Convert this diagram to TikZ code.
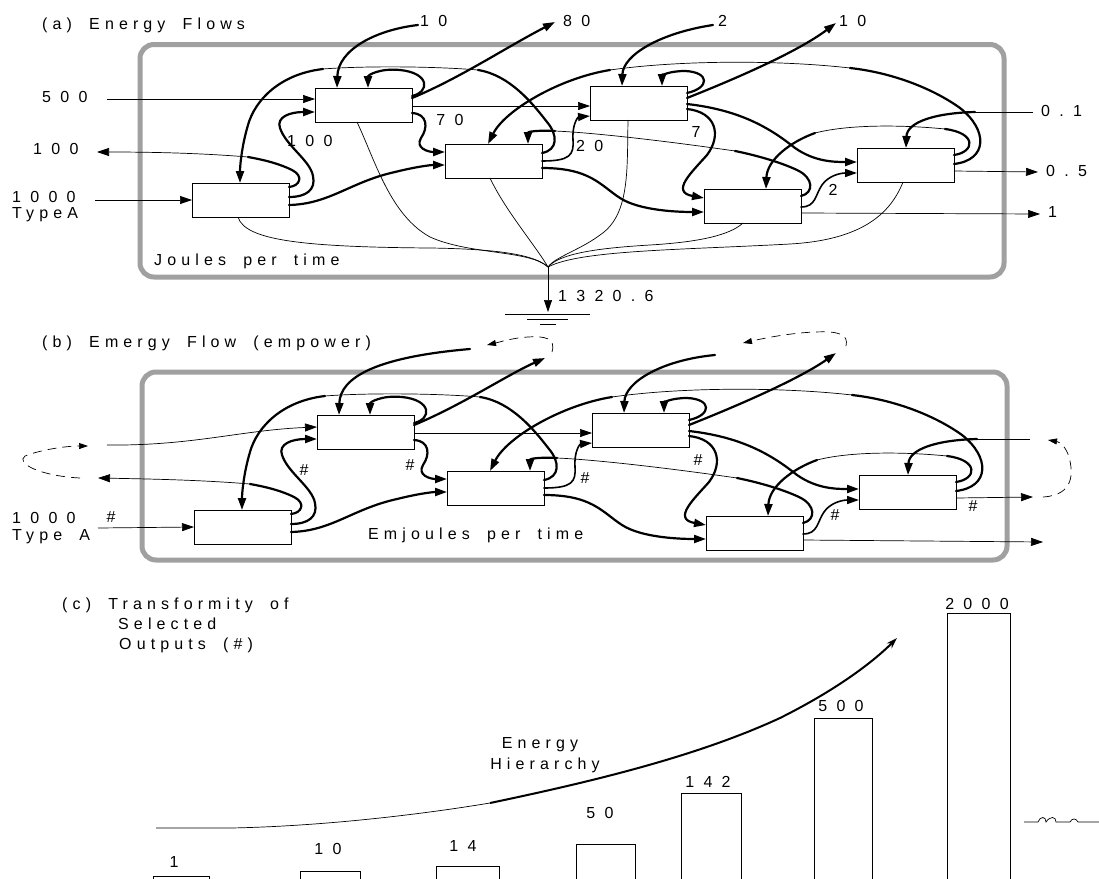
\documentclass[tikz,border=0pt]{standalone}
\usepackage{fontspec}
\setmainfont{Liberation Sans}
\newfontfamily\lf[LetterSpace=32,WordSpace=1.8]{Liberation Sans}
\newfontfamily\nf[LetterSpace=58]{Liberation Sans}
\usetikzlibrary{arrows.meta}
\definecolor{frameg}{RGB}{160,160,160}
\tikzset{
  box/.style={draw, line width=0.9pt, minimum width=97pt, minimum height=34pt, inner sep=0pt, outer sep=0pt, anchor=north west},
  thn/.style={line width=0.7pt},
  thk/.style={line width=2.2pt, line cap=round},
  med/.style={line width=1.6pt, line cap=round},
  tip/.style={-{Triangle[length=12pt,width=8pt]}},
  stip/.style={-{Triangle[length=9pt,width=6pt]}},
  dsh/.style={line width=0.7pt, dash pattern=on 9pt off 6pt},
  frame/.style={draw=frameg, line width=5pt, rounded corners=14pt},
  lab/.style={font={\lf\fontsize{16pt}{18pt}\selectfont}, inner sep=0pt},
  num/.style={font={\nf\fontsize{16pt}{18pt}\selectfont}, inner sep=0pt},
  bar/.style={draw, line width=0.9pt}
}
\newcommand\flowset[1]{%
 \coordinate (#1k01) at (975,112);
 \coordinate (#1t10) at (248,157);
 \coordinate (#1t13a) at (478,70);
 \coordinate (#1t13b) at (323,69);
 \coordinate (#1t14a) at (735,151);
 \coordinate (#1t14b) at (555,131);
 \coordinate (#1t18a) at (850,68);
 \coordinate (#1t18b) at (610,70);
 \coordinate (#1t25a) at (945,129);
 \coordinate (#1t25b) at (815,133);
 \draw[thk,tip] (#1s10) .. controls (375,30) and (338,50) .. ([shift={(22,0)}]#12.north west);
 \draw[thk,tip] ([shift={(0,10)}]#12.north east) .. controls (460,78) and (505,48) .. (#1s80);
 \draw[thk,tip] (#1s2) .. controls (660,33) and (623,55) .. ([shift={(32,0)}]#14.north west);
 \draw[thk,tip] ([shift={(0,12)}]#14.north east) .. controls (745,75) and (800,50) .. (#1s10r);
 \draw[thn] (#1s01) -- (#1k01);
 \draw[thk,tip] (#1k01) .. controls (935,113) and (907,122) .. ([shift={(49,0)}]#16.north west);
 \draw[thn,tip] ([shift={(0,23)}]#16.north east) -- (#1s05);
 \draw[thn,tip] ([shift={(0,24)}]#15.north east) -- (#1s1);
 \draw[thn,tip] (#1s1000) -- (#11.west);
 \draw[thk] ([shift={(0,4)}]#11.north east) .. controls (300,186) and (304,176) .. (292,170) .. controls (280,164) and (265,160) .. (#1t10);
 \draw[thn,tip] (#1t10) .. controls (200,153) and (150,152) .. (#1s100);
 \draw[thk,tip] ([shift={(0,14)}]#11.north east) .. controls (306,197) and (316,190) .. (313,176) .. controls (310,160) and (286,146) .. (280,128) .. controls (276,117) and (290,112) .. ([shift={(0,24)}]#12.north west);
 \draw[thk,tip] ([shift={(0,22)}]#11.north east) .. controls (330,204) and (350,182) .. (395,172) .. controls (415,167) and (430,165) .. ([shift={(0,21)}]#13.north west);
 \draw[thk] ([shift={(0,9)}]#13.north east) .. controls (558,150) and (558,135) .. (547,122) .. controls (533,104) and (510,75) .. (#1t13a);
 \draw[thn] (#1t13a) .. controls (430,66) and (360,66) .. (#1t13b);
 \draw[thk,tip] (#1t13b) .. controls (280,74) and (255,100) .. (248,125) .. controls (242,145) and (240,165) .. ([shift={(48,0)}]#11.north west);
 \draw[thk] ([shift={(0,7)}]#15.north east) .. controls (814,193) and (814,178) .. (797,170) .. controls (780,162) and (755,155) .. (#1t14a);
 \draw[thn] (#1t14a) .. controls (680,143) and (600,133) .. (#1t14b);
 \draw[thk,tip] (#1t14b) .. controls (535,130) and (528,132) .. ([shift={(83,0)}]#13.north west);
 \draw[thk,tip] ([shift={(0,8)}]#12.north east) .. controls (430,92) and (430,73) .. (400,70) .. controls (380,68) and (368,75) .. ([shift={(53,0)}]#12.north west);
 \draw[thk,tip] ([shift={(0,25)}]#12.north east) .. controls (428,114) and (428,128) .. (421,138) .. controls (415,148) and (428,152) .. ([shift={(0,8)}]#13.north west);
 \draw[thn,tip] ([shift={(0,18)}]#12.north east) -- ([shift={(0,20)}]#14.north west);
 \draw[thk] ([shift={(0,16)}]#16.north east) .. controls (988,160) and (988,130) .. (960,108) .. controls (935,90) and (895,73) .. (#1t18a);
 \draw[thn] (#1t18a) .. controls (780,60) and (680,60) .. (#1t18b);
 \draw[thk,tip] (#1t18b) .. controls (560,78) and (505,110) .. ([shift={(43,0)}]#13.north west);
 \draw[thk,tip] ([shift={(0,7)}]#14.north east) .. controls (710,88) and (710,72) .. (685,71) .. controls (668,71) and (662,76) .. ([shift={(72,0)}]#14.north west);
 \draw[thk,tip] ([shift={(0,23)}]#14.north east) .. controls (716,112) and (722,135) .. (707,155) .. controls (692,172) and (670,192) .. ([shift={(0,9)}]#15.north west);
 \draw[thk,tip] ([shift={(0,18)}]#14.north east) .. controls (740,110) and (770,128) .. (795,148) .. controls (815,162) and (835,162) .. ([shift={(0,14)}]#16.north west);
 \draw[med,tip] ([shift={(0,17)}]#13.north east) .. controls (570,161) and (574,155) .. (573,140) .. controls (572,124) and (578,117) .. ([shift={(0,30)}]#14.north west);
 \draw[thk,tip] ([shift={(0,24)}]#13.north east) .. controls (590,168) and (600,185) .. (620,198) .. controls (640,211) and (680,212) .. ([shift={(0,23)}]#15.north west);
 \draw[med,tip] ([shift={(0,18)}]#15.north east) .. controls (816,207) and (815,195) .. (822,185) .. controls (828,176) and (840,173) .. ([shift={(0,25)}]#16.north west);
 \draw[thk] ([shift={(0,7)}]#16.north east) .. controls (975,152) and (977,133) .. (#1t25a);
 \draw[thn] (#1t25a) .. controls (905,125) and (850,124) .. (#1t25b);
 \draw[thk,tip] (#1t25b) .. controls (790,142) and (767,160) .. ([shift={(62,0)}]#15.north west);
}
\begin{document}
\begin{tikzpicture}[x=1pt,y=-1pt]
\useasboundingbox (0,0) rectangle (1099,878);
\clip (0,0) rectangle (1099,878);
\fill[white] (0,0) rectangle (1099,878);
% ---------------- frames
\draw[frame] (140,44.5) rectangle (1004,277);
\draw[frame] (142,372) rectangle (1007,560);
% ---------------- panel (a)
\begin{scope}
 \node[box] (a1) at (192,183) {};
 \node[box] (a2) at (315,88) {};
 \node[box] (a3) at (445,144) {};
 \node[box] (a4) at (590,86) {};
 \node[box] (a5) at (704,189) {};
 \node[box] (a6) at (857,148) {};
 \coordinate (as10) at (418,25);
 \coordinate (as80) at (555,22);
 \coordinate (as2) at (713,25);
 \coordinate (as10r) at (836,23);
 \coordinate (as01) at (1033,112);
 \coordinate (as05) at (1038,172);
 \coordinate (as1) at (1040,214);
 \coordinate (as1000) at (95,200);
 \coordinate (as100) at (97,152);
 \coordinate (as500) at (107,99);
 \flowset{a}
 \draw[thn,tip] (as500) -- ([shift={(0,11)}]a2.north west);
 % dispersal to heat sink
 \coordinate (sink) at (548,267);
 \coordinate (gnd) at (548,312);
 \draw[thn] ([shift={(46,0)}]a1.south west) .. controls (245,240) and (300,247) .. (430,248) .. controls (500,249) and (535,255) .. (sink);
 \draw[thn] ([shift={(42,0)}]a2.south west) .. controls (375,160) and (390,215) .. (430,237) .. controls (470,255) and (530,250) .. (sink);
 \draw[thn] ([shift={(45,0)}]a3.south west) .. controls (505,210) and (535,245) .. (sink);
 \draw[thn] ([shift={(38,0)}]a4.south west) .. controls (627,170) and (630,215) .. (600,235) .. controls (580,250) and (555,257) .. (sink);
 \draw[thn] ([shift={(39,0)}]a5.south west) .. controls (730,235) and (700,242) .. (650,245) .. controls (600,248) and (560,253) .. (sink);
 \draw[thn] ([shift={(46,0)}]a6.south west) .. controls (890,215) and (860,240) .. (790,244) .. controls (680,250) and (580,250) .. (sink);
 \draw[thn,tip] (sink) -- (gnd);
 \draw[thn] ([shift={(-43,2)}]gnd) -- ([shift={(42,2)}]gnd);
 \draw[thn] ([shift={(-21,7)}]gnd) -- ([shift={(20,7)}]gnd);
 \draw[thn] ([shift={(-8,12)}]gnd) -- ([shift={(8,12)}]gnd);
 % labels
 \node[lab,anchor=west] (ta) at (42,25) {(a) Energy Flows};
 \node[num,anchor=west] (t10) at (420,21) {10};
 \node[num,anchor=west] (t80) at (563,21) {80};
 \node[num,anchor=west] (t2) at (718,21) {2};
 \node[num,anchor=west] (t10r) at (839,21) {10};
 \node[num,anchor=west] (t500) at (42,97) {500};
 \node[num,anchor=west] (t100) at (33,149) {100};
 \node[num,anchor=west] (t1000) at (12,197) {1000};
 \node[lab,anchor=west] (ttype) at (12,215) {TypeA};
 \node[lab,anchor=west] (tjoules) at (154,261) {Joules per time};
 \node[num] (t70) at (450,120) {70};
 \node[num,anchor=west] (t100i) at (287,141) {100};
 \node[num,anchor=west] (t20) at (576,146) {20};
 \node[num] (t7) at (696,132) {7};
 \node[num] (t2i) at (833,190) {2};
 \node[num,anchor=west] (t01) at (1041,111) {0.1};
 \node[num,anchor=west] (t05) at (1046,171) {0.5};
 \node[num,anchor=west] (t1) at (1048,212) {1};
 \node[num,anchor=west] (tsink) at (558,296) {1320.6};
\end{scope}
% ---------------- panel (b)
\begin{scope}[shift={(2,327)}]
 \node[box] (b1) at (192,183) {};
 \node[box] (b2) at (315,88) {};
 \node[box] (b3) at (445,144) {};
 \node[box] (b4) at (590,86) {};
 \node[box] (b5) at (704,189) {};
 \node[box] (b6) at (857,148) {};
 \coordinate (bs10) at (468,22);
 \coordinate (bs80) at (543,31);
 \coordinate (bs2) at (713,28);
 \coordinate (bs10r) at (834,26);
 \coordinate (bs01) at (1028,112);
 \coordinate (bs05) at (1031,170);
 \coordinate (bs1) at (1041,215);
 \coordinate (bs1000) at (96,201);
 \coordinate (bs100) at (96,151);
 \coordinate (bs500) at (105,118);
 \flowset{b}
 \draw[thn,tip] (bs500) .. controls (190,119) and (240,103) .. ([shift={(0,12)}]b2.north west);
\end{scope}
% recycle loops (dashed)
\coordinate (dl0) at (80,478);
\coordinate (dl1) at (88,446);
\draw[dsh,stip] (dl0) .. controls (40,476) and (15,463) .. (25,456) .. controls (40,450) and (65,446) .. (dl1);
\coordinate (dt0) at (552,352);
\coordinate (dt1) at (487,345);
\draw[dsh,stip] (dt0) .. controls (556,338) and (545,336) .. (528,337) .. controls (512,338) and (500,342) .. (dt1);
\coordinate (du0) at (846,346);
\coordinate (du1) at (743,343);
\draw[dsh,stip] (du0) .. controls (849,334) and (838,331) .. (815,332) .. controls (790,333) and (765,338) .. (du1);
\coordinate (dr0) at (1043,497);
\coordinate (dr1) at (1048,440);
\draw[dsh,stip] (dr0) .. controls (1075,495) and (1073,472) .. (1069,457) .. controls (1066,447) and (1060,442) .. (dr1);
% labels (b)
\node[lab,anchor=west] (tb) at (42,343) {(b) Emergy Flow (empower)};
\node[num,anchor=west] (tb1000) at (12,518) {1000};
\node[lab,anchor=west] (tbtype) at (12,537) {Type A};
\node[lab] (h1) at (111,517) {\#};
\node[lab] (h2) at (304,470) {\#};
\node[lab] (h3) at (410,465) {\#};
\node[lab] (h4) at (585,478) {\#};
\node[lab] (h5) at (698,460) {\#};
\node[lab] (h6) at (835,515) {\#};
\node[lab] (h7) at (973,506) {\#};
\node[lab,anchor=west] (temj) at (368,535) {Emjoules per time};
% ---------------- panel (c)
\node[lab,anchor=west] (c1) at (62,605) {(c) Transformity of};
\node[lab,anchor=west] (c2) at (118,624) {Selected};
\node[lab,anchor=west] (c3) at (119,645) {Outputs (\#)};
\draw[bar] (153,876) rectangle (209,900);
\draw[bar] (300,871) rectangle (360,900);
\draw[bar] (436,866) rectangle (499,900);
\draw[bar] (576,844) rectangle (635,900);
\draw[bar] (681,793) rectangle (741,900);
\draw[bar] (814,718) rectangle (872,900);
\draw[bar] (947,613) rectangle (1010,900);
\node[num] (v1) at (174,862) {1};
\node[num] (v2) at (328,849) {10};
\node[num] (v3) at (463,846) {14};
\node[num] (v4) at (600,813) {50};
\node[num] (v5) at (708,782) {142};
\node[num] (v6) at (841,706) {500};
\node[num] (v7) at (977,604) {2000};
\coordinate (h0) at (156,828);
\coordinate (hm) at (490,803);
\coordinate (he) at (897,638);
\draw[thn] (h0) -- (231,828) .. controls (330,826) and (430,813) .. (hm);
\draw[line width=2pt, -{Stealth[length=11pt,width=7pt]}] (hm) .. controls (600,780) and (700,755) .. (780,718) .. controls (840,688) and (875,660) .. (he);
\node[lab] (e1) at (540,745) {Energy};
\node[lab] (e2) at (545,765) {Hierarchy};
% cut-off scribble at right edge
\draw[thn] (1024,822) -- (1038,822) .. controls (1040,816) and (1046,816) .. (1046,822) .. controls (1050,816) and (1056,816) .. (1056,822) -- (1070,822) .. controls (1072,818) and (1076,818) .. (1078,822) -- (1099,822);
\end{tikzpicture}
\end{document}
